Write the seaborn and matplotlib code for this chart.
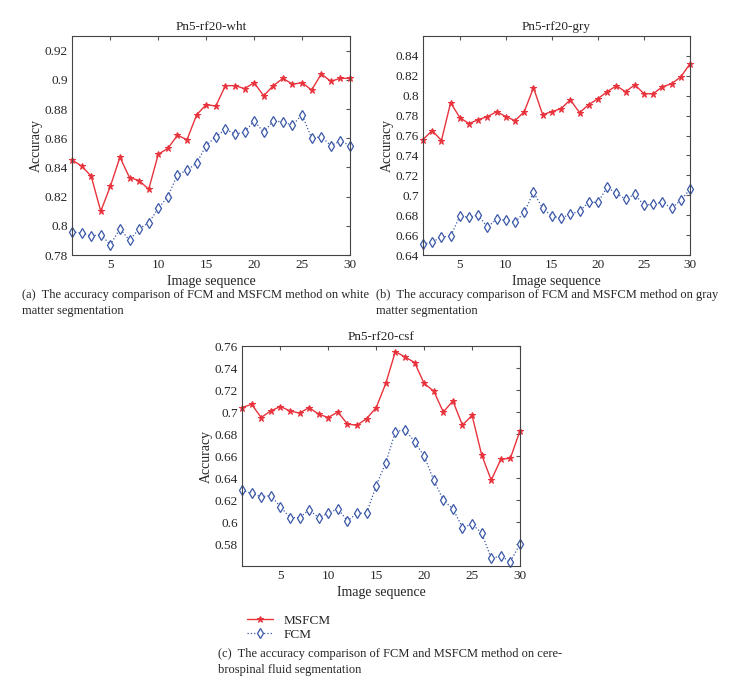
import numpy as np
import pandas as pd
import matplotlib
matplotlib.use("Agg")
import matplotlib.pyplot as plt
import seaborn as sns

# image sequence index shared by all panels
frames = list(range(1, 31))

# (a) white matter
wht_msfcm = [0.845, 0.841, 0.834, 0.810, 0.827, 0.847, 0.833, 0.831, 0.825, 0.849,
             0.853, 0.862, 0.859, 0.876, 0.883, 0.882, 0.896, 0.896, 0.894, 0.898,
             0.889, 0.896, 0.901, 0.897, 0.898, 0.893, 0.904, 0.899, 0.901, 0.901]
wht_fcm = [0.796, 0.795, 0.793, 0.794, 0.787, 0.798, 0.790, 0.798, 0.802, 0.812,
           0.820, 0.835, 0.838, 0.843, 0.855, 0.861, 0.866, 0.863, 0.864, 0.872,
           0.864, 0.872, 0.871, 0.869, 0.876, 0.860, 0.861, 0.855, 0.858, 0.855]

# (b) gray matter
gry_msfcm = [0.756, 0.765, 0.755, 0.793, 0.778, 0.772, 0.776, 0.779, 0.784, 0.779,
             0.775, 0.784, 0.808, 0.781, 0.784, 0.787, 0.796, 0.783, 0.791, 0.797,
             0.804, 0.810, 0.804, 0.811, 0.802, 0.802, 0.809, 0.812, 0.819, 0.832]
gry_fcm = [0.651, 0.653, 0.658, 0.659, 0.679, 0.678, 0.680, 0.668, 0.676, 0.675,
           0.673, 0.683, 0.703, 0.687, 0.679, 0.677, 0.681, 0.684, 0.693, 0.693,
           0.708, 0.702, 0.696, 0.701, 0.690, 0.691, 0.693, 0.687, 0.695, 0.706]

# (c) cerebrospinal fluid
csf_msfcm = [0.704, 0.707, 0.695, 0.701, 0.705, 0.701, 0.699, 0.704, 0.698, 0.695,
             0.700, 0.689, 0.688, 0.694, 0.704, 0.726, 0.755, 0.750, 0.745, 0.726,
             0.719, 0.700, 0.710, 0.688, 0.697, 0.661, 0.638, 0.657, 0.658, 0.683]
csf_fcm = [0.629, 0.626, 0.623, 0.624, 0.614, 0.604, 0.604, 0.611, 0.604, 0.608,
           0.612, 0.601, 0.608, 0.608, 0.633, 0.654, 0.682, 0.684, 0.673, 0.660,
           0.638, 0.620, 0.612, 0.595, 0.598, 0.590, 0.567, 0.569, 0.564, 0.580]

RED = "#e8333d"
BLUE = "#3a58a8"

sns.set_style("white")
plt.rcParams["font.family"] = ["Liberation Serif", "DejaVu Serif"]

W, H = 740, 683
fig = plt.figure(figsize=(W / 100, H / 100), dpi=100)


def px_axes(left, top, right, bottom):
    return fig.add_axes([left / W, 1 - bottom / H, (right - left) / W, (bottom - top) / H])


def draw_panel(ax, title, msfcm, fcm, ylim, yticks):
    df = pd.DataFrame({"frame": frames, "MSFCM": msfcm, "FCM": fcm})
    sns.lineplot(data=df, x="frame", y="MSFCM", ax=ax, color=RED, lw=1.0,
                 marker="*", markersize=4.5, markeredgecolor=RED, label="MSFCM",
                 clip_on=False)
    sns.lineplot(data=df, x="frame", y="FCM", ax=ax, color=BLUE, lw=0.9,
                 linestyle=":", marker="d", markersize=5, markerfacecolor="white",
                 markeredgecolor=BLUE, markeredgewidth=0.9, label="FCM",
                 clip_on=False)
    ax.set_xlim(1, 30)
    ax.set_ylim(*ylim)
    ax.set_xticks([5, 10, 15, 20, 25, 30])
    ax.set_yticks(yticks)
    ax.set_yticklabels([f"{t:g}" for t in yticks])
    ax.tick_params(direction="in", length=3, labelsize=9.5, top=True, right=True,
                   color="#555555", pad=3)
    for s in ax.spines.values():
        s.set_color("#444444")
        s.set_linewidth(0.8)
    ax.set_title(title, fontsize=9.5, pad=4)
    ax.set_xlabel("Image sequence", fontsize=10, labelpad=3)
    ax.set_ylabel("Accuracy", fontsize=10, labelpad=1)
    ax.get_legend().remove()


ax_a = px_axes(72, 36, 350, 255)
draw_panel(ax_a, "Pn5-rf20-wht", wht_msfcm, wht_fcm, (0.78, 0.93),
           [0.78, 0.80, 0.82, 0.84, 0.86, 0.88, 0.90, 0.92])

ax_b = px_axes(423, 36, 690, 255)
draw_panel(ax_b, "Pn5-rf20-gry", gry_msfcm, gry_fcm, (0.64, 0.86),
           [0.64, 0.66, 0.68, 0.70, 0.72, 0.74, 0.76, 0.78, 0.80, 0.82, 0.84])

ax_c = px_axes(242, 346, 520, 566)
draw_panel(ax_c, "Pn5-rf20-csf", csf_msfcm, csf_fcm, (0.56, 0.76),
           [0.58, 0.60, 0.62, 0.64, 0.66, 0.68, 0.70, 0.72, 0.74, 0.76])

handles, labels = ax_c.get_legend_handles_labels()
fig.legend(handles, labels, loc="upper left", bbox_to_anchor=(240 / W, 1 - 608 / H),
           frameon=False, fontsize=9.5, handlelength=2.0, labelspacing=0.15,
           borderpad=0, handletextpad=0.8)

cap_kw = dict(fontsize=9, ha="left", va="top")
fig.text(22 / W, 1 - 289 / H,
         "(a)  The accuracy comparison of FCM and MSFCM method on white\nmatter segmentation",
         linespacing=1.5, **cap_kw)
fig.text(376 / W, 1 - 289 / H,
         "(b)  The accuracy comparison of FCM and MSFCM method on gray\nmatter segmentation",
         linespacing=1.5, **cap_kw)
fig.text(218 / W, 1 - 648 / H,
         "(c)  The accuracy comparison of FCM and MSFCM method on cere-\nbrospinal fluid segmentation",
         linespacing=1.5, **cap_kw)

fig.savefig("out.png", dpi=100)
